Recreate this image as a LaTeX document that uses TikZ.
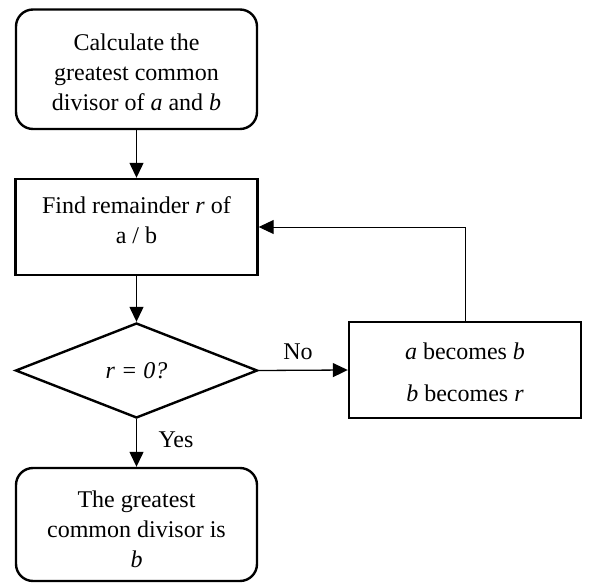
\documentclass[tikz,border=0pt]{standalone}
\usepackage{fontspec}
\setmainfont{Liberation Serif}
\usetikzlibrary{shapes.geometric,arrows.meta}
\begin{document}
\begin{tikzpicture}[x=1pt,y=-1pt,
  box/.style={draw,line width=2.4pt,inner sep=0pt},
  termbox/.style={box,rounded corners=17pt},
  txt/.style={align=center,font=\fontsize{24}{30}\selectfont,inner sep=0pt},
  flow/.style={line width=1.3pt,-{Triangle[length=15pt,width=14pt]}}
]
\useasboundingbox (0,0) rectangle (589,583);

% process shapes
\node[termbox,minimum width=241pt,minimum height=119.5pt] (start) at (136.5,69.25) {};
\node[box,minimum width=242pt,minimum height=96pt] (find) at (136.5,227) {};
\node[box,diamond,minimum width=242pt,minimum height=95pt,font=\fontsize{24}{30}\selectfont] (test) at (136.5,370.5) {\textit{r = 0?}};
\node[box,minimum width=232pt,minimum height=96pt] (upd) at (465,370) {};
\node[termbox,minimum width=241pt,minimum height=113pt] (result) at (136.5,524.5) {};

% texts inside the shapes
\node[txt] (starttxt) at (136.5,72) {Calculate the\\greatest common\\divisor of \textit{a} and \textit{b}};
\node[txt] (findtxt) at (136.5,220) {Find remainder \textit{r} of\\a / b};
\node[txt] (upda) at (465,351) {\textit{a} becomes \textit{b}};
\node[txt] (updb) at (465,393) {\textit{b} becomes \textit{r}};
\node[txt] (resulttxt) at (136.5,529) {The greatest\\common divisor is\\\textit{b}};

% branch labels
\node[txt] (nolbl) at (298,352) {No};
\node[txt] (yeslbl) at (176,440) {Yes};

% connectors
\draw[flow] (start.south) -- (find.north);
\draw[flow] (find.south) -- (test.north);
\draw[flow] (test.east) -- (upd.west);
\draw[flow] (test.south) -- (result.north);
\draw[flow,line width=1pt] (upd.north) |- (find.east);
\end{tikzpicture}
\end{document}
